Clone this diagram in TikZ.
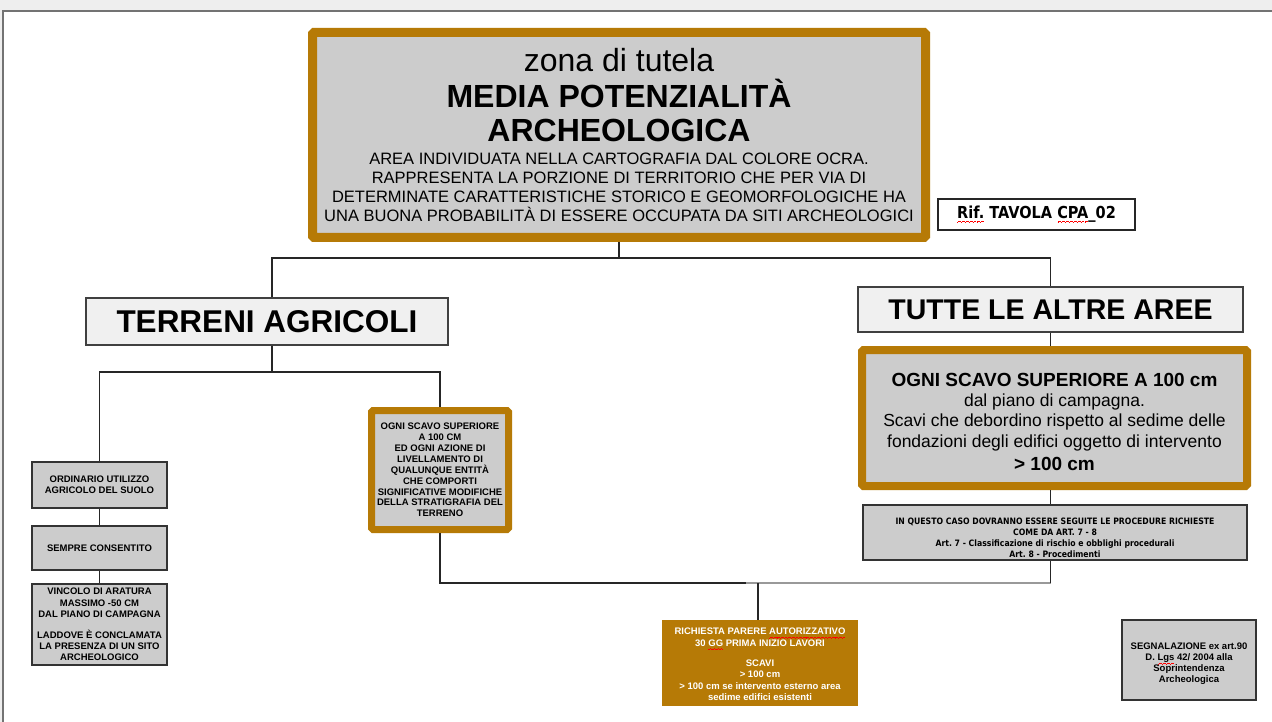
\documentclass[tikz,border=0pt]{standalone}
\usepackage{fontspec}
\setmainfont{Liberation Sans}
\newfontfamily\tah{DejaVu Sans}[FakeStretch=0.88]
\usetikzlibrary{calc}
\definecolor{ocra}{HTML}{B67A06}
\definecolor{grayfill}{HTML}{CCCCCC}
\definecolor{titlefill}{HTML}{F0F0F0}
\definecolor{bgstrip}{HTML}{EEEEEE}
\definecolor{lineclr}{HTML}{262626}
\newcommand\fsz[2]{\fontsize{#1}{#2}\selectfont\spaceskip=\fontdimen2\font\xspaceskip=\fontdimen2\font\relax}
\newsavebox\wavebox
\newcommand\redwave[1]{\sbox\wavebox{#1}\leavevmode\rlap{\color{red}\hbox to\wd\wavebox{\xleaders\hbox{\rule[-3.6pt]{0.9pt}{0.6pt}\rule[-3.1pt]{0.9pt}{0.6pt}\rule[-2.6pt]{0.9pt}{0.6pt}\rule[-3.1pt]{0.9pt}{0.6pt}}\hfil}}\usebox\wavebox}
\tikzset{
  conn/.style={draw=lineclr, line width=1.1pt},
  connlight/.style={draw=black!40, line width=1.1pt},
  brownbox/.style={draw=ocra, fill=grayfill, rounded corners=1.5pt, inner sep=0pt, align=center},
  titlebox/.style={draw=black!75, line width=1.2pt, fill=titlefill, inner sep=0pt, align=center},
  smallbox/.style={draw=black!80, line width=1.1pt, fill=grayfill, inner sep=0pt, align=center, font=\bfseries\fsz{9.5}{11.3}},
}
\begin{document}
\begin{tikzpicture}[x=1pt,y=-1pt]
\useasboundingbox (0,0) rectangle (1272,722);
\fill[bgstrip] (0,0) rectangle (1272,722);
\fill[white] (3,11) rectangle (1272,722);
\draw[black!55, line width=1.2pt] (3,722) -- (3,11) -- (1272,11);

% top box
\node[brownbox, line width=9pt, minimum width=613pt, minimum height=205pt, text width=605pt] (top) at (619,135) {%
{\fsz{32}{36}zona di tutela\par}%
{\fsz{32}{36}\bfseries MEDIA POTENZIALITÀ\par}%
{\fsz{32}{34}\bfseries ARCHEOLOGICA\par}%
{\fsz{16.5}{23.5}AREA INDIVIDUATA NELLA CARTOGRAFIA DAL COLORE OCRA.\par}%
{\fsz{16.5}{19}RAPPRESENTA LA PORZIONE DI TERRITORIO CHE PER VIA DI\\DETERMINATE CARATTERISTICHE STORICO E GEOMORFOLOGICHE HA\\UNA BUONA PROBABILITÀ DI ESSERE OCCUPATA DA SITI ARCHEOLOGICI\par}};

% Rif box
\node[draw=black!85, line width=1.1pt, fill=white, inner sep=0pt, minimum width=197pt, minimum height=31pt, font=\tah\bfseries\fsz{16.5}{18}] (rif) at (1036.5,214.5) {\redwave{Rif.} TAVOLA \redwave{CPA}\_02};

% title boxes
\node[titlebox, minimum width=362pt, minimum height=47pt, font=\bfseries\fsz{31.5}{34}] (terr) at (267,321.5) {TERRENI AGRICOLI};
\node[titlebox, minimum width=385pt, minimum height=45pt, font=\bfseries\fsz{28.5}{32}] (tutte) at (1050.5,309.5) {TUTTE LE ALTRE AREE};

\coordinate (j1) at (619,258);
\draw[conn] (top.south) -- (j1);
\draw[conn] ([xshift=5pt]terr.north) |- (j1) -| (tutte.north);

% left column
\node[smallbox, minimum width=135pt, minimum height=46pt] (b1) at (99.5,485) {ORDINARIO UTILIZZO\\AGRICOLO DEL SUOLO};
\node[smallbox, minimum width=135pt, minimum height=44pt] (b2) at (99.5,548) {SEMPRE CONSENTITO};
\node[smallbox, minimum width=135pt, minimum height=81pt] (b3) at (99.5,624.5) {VINCOLO DI ARATURA\\MASSIMO -50 CM\\DAL PIANO DI CAMPAGNA\\[9.5pt]LADDOVE È CONCLAMATA\\LA PRESENZA DI UN SITO\\ARCHEOLOGICO};
\draw[conn] (b1.south) -- (b2.north);
\draw[conn] (b2.south) -- (b3.north);

% middle brown box
\node[brownbox, line width=7pt, minimum width=137pt, minimum height=119pt, font=\bfseries\fsz{9.5}{10.9}] (mid) at (440,470) {OGNI SCAVO SUPERIORE\\A 100 CM\\ED OGNI AZIONE DI\\LIVELLAMENTO DI\\QUALUNQUE ENTITÀ\\CHE COMPORTI\\SIGNIFICATIVE MODIFICHE\\DELLA STRATIGRAFIA DEL\\TERRENO};

\coordinate (j2) at (272,372);
\draw[conn] ([xshift=5pt]terr.south) -- (j2);
\draw[conn] (b1.north) |- (j2) -| (mid.north);

% right brown box
\node[brownbox, line width=8pt, minimum width=385pt, minimum height=136pt, text width=380pt] (rb) at (1054.5,418) {%
{\fsz{19}{20}\bfseries\rule{0pt}{21pt}OGNI SCAVO SUPERIORE A 100 cm\par}%
{\fsz{17.5}{19.5}dal piano di campagna.\par}%
{\fsz{17.5}{20.5}Scavi che debordino rispetto al sedime delle\\fondazioni degli edifici oggetto di intervento\par}%
{\fsz{19}{23}\bfseries > 100 cm\par}};
\draw[conn] (tutte.south) -- (tutte.south |- rb.north);

% IN QUESTO CASO box
\node[smallbox, font=\tah\bfseries\fsz{8.8}{11}, minimum width=384pt, minimum height=55pt] (inq) at (1055,532.5) {\rule{0pt}{16.5pt}IN QUESTO CASO DOVRANNO ESSERE SEGUITE LE PROCEDURE RICHIESTE\\COME DA ART. 7 - 8\\Art. 7 - Classificazione di rischio e obblighi procedurali\\Art. 8 - Procedimenti};
\draw[conn] (tutte.south |- rb.south) -- (tutte.south |- inq.north);

% orange box
\node[fill=ocra, inner sep=0pt, minimum width=196pt, minimum height=86pt, text=white, align=center, font=\bfseries\fsz{9.5}{11.3}] (orange) at (760,663) {\rule{0pt}{9.5pt}RICHIESTA PARERE \redwave{AUTORIZZATIVO}\\30 \redwave{GG} PRIMA INIZIO LAVORI\\[9pt]SCAVI\\> 100 cm\\> 100 cm se intervento esterno area\\sedime edifici esistenti};

% bottom bus
\coordinate (jg) at (746,583);
\coordinate (j3) at (758,583);
\draw[conn] (mid.south) |- (jg);
\draw[connlight] (jg) -- (jg -| tutte.south);
\draw[conn] (tutte.south |- inq.south) -- (jg -| tutte.south);
\draw[conn] (j3) -- (j3 |- orange.north);

% segnalazione
\node[smallbox, minimum width=134pt, minimum height=80pt, font=\bfseries\fsz{9.5}{11}] (segn) at (1189,660) {\rule{0pt}{15pt}SEGNALAZIONE ex art.90\\D. \redwave{Lgs} 42/ 2004 alla\\Soprintendenza\\Archeologica};
\end{tikzpicture}
\end{document}
